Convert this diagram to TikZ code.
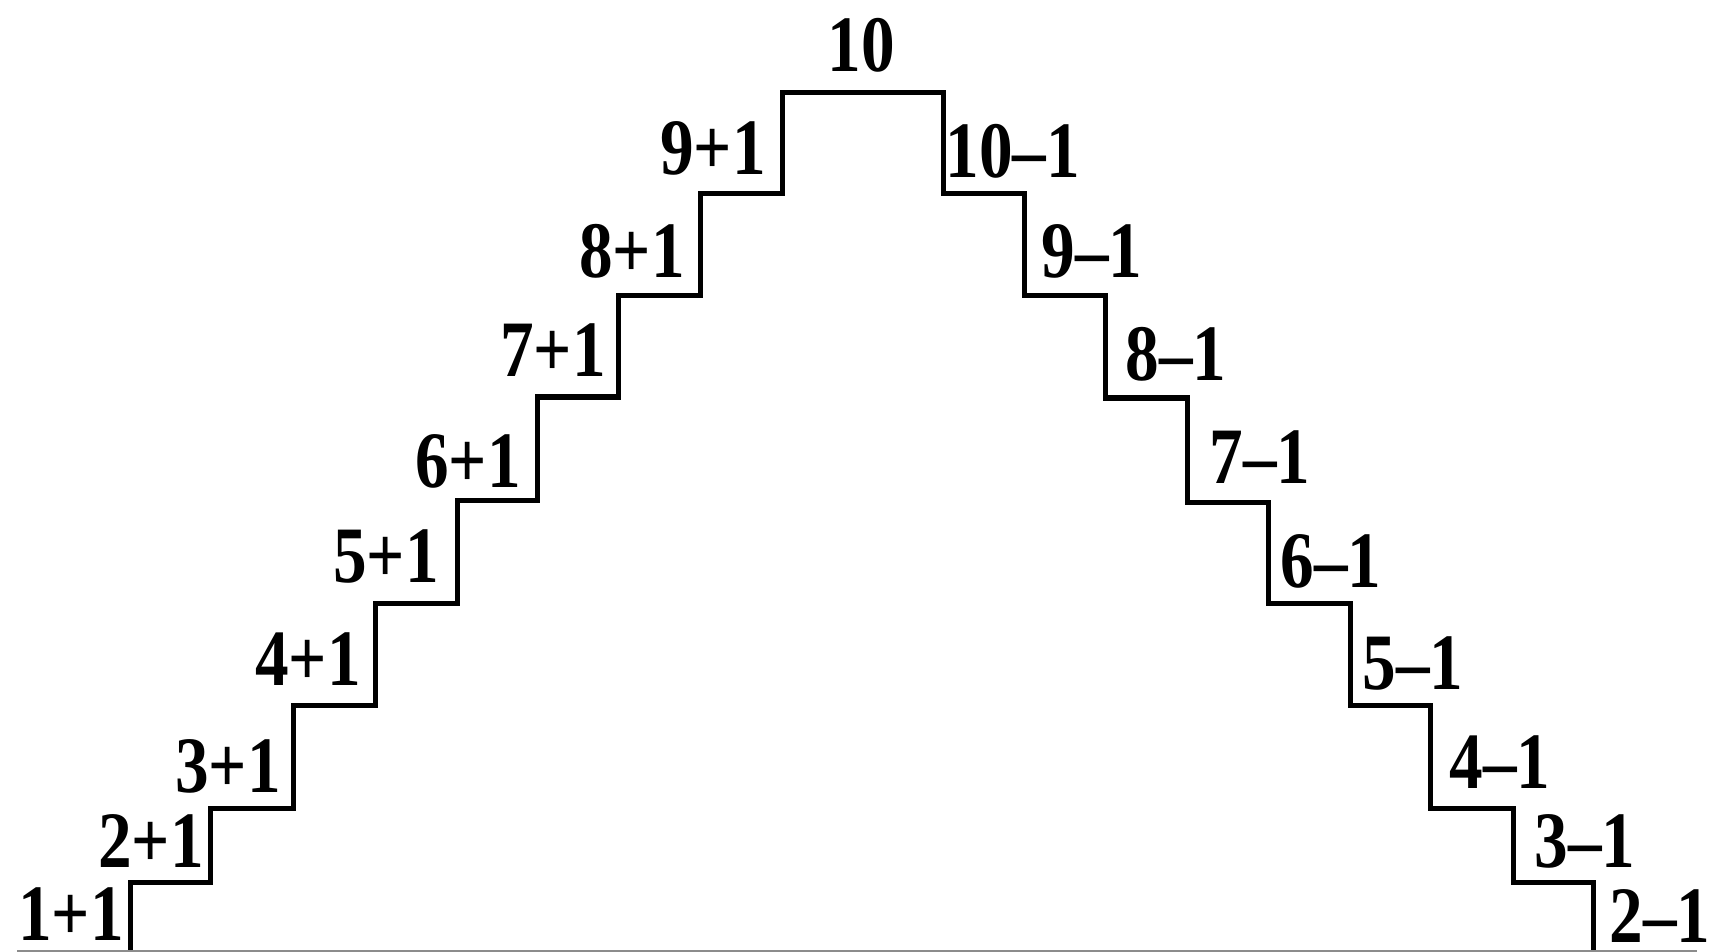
\documentclass[tikz,border=0pt]{standalone}
\usepackage{fontspec}
\setmainfont{Liberation Serif}
\newcommand{\stw}[1]{\scalebox{0.84}[1]{#1}}
\begin{document}
\begin{tikzpicture}[x=0.5pt,y=-0.5pt,
  stair/.style={line width=2.5pt, line join=miter},
  base/.style={draw=black!45, line width=1pt},
  lbl/.style={font=\fontsize{40}{40}\selectfont\bfseries, inner sep=0pt, text depth=0pt, text=black}]
\useasboundingbox[fill=white] (0,0) rectangle (1709,952);
% staircase
\draw[stair] (130,952) -- (130,882) -- (210,882) -- (210,808) -- (293,808) -- (293,705)
  -- (375,705) -- (375,603) -- (457,603) -- (457,500) -- (537,500) -- (537,397)
  -- (618,397) -- (618,296) -- (700,296) -- (700,194) -- (782,194) -- (782,93)
  -- (943,93) -- (943,194) -- (1024,194) -- (1024,296) -- (1105,296) -- (1105,398)
  -- (1187,398) -- (1187,502) -- (1268,502) -- (1268,603) -- (1350,603) -- (1350,705)
  -- (1430,705) -- (1430,808) -- (1513,808) -- (1513,882) -- (1593,882) -- (1593,952);
\draw[base] (17,950.5) -- (1697,950.5);
% left labels
\node[lbl, anchor=base east] (p1) at (124,940) {\stw{1+1}};
\node[lbl, anchor=base east] (p2) at (204,867) {\stw{2+1}};
\node[lbl, anchor=base east] (p3) at (281,792) {\stw{3+1}};
\node[lbl, anchor=base east] (p4) at (361,685) {\stw{4+1}};
\node[lbl, anchor=base east] (p5) at (439,582) {\stw{5+1}};
\node[lbl, anchor=base east] (p6) at (521,487) {\stw{6+1}};
\node[lbl, anchor=base east] (p7) at (606,377) {\stw{7+1}};
\node[lbl, anchor=base east] (p8) at (685,278) {\stw{8+1}};
\node[lbl, anchor=base east] (p9) at (766,175) {\stw{9+1}};
% top
\node[lbl, anchor=base] (top) at (861,72) {\stw{10}};
% right labels
\node[lbl, anchor=base west] (m10) at (945,178) {\stw{10–1}};
\node[lbl, anchor=base west] (m9) at (1041,278) {\stw{9–1}};
\node[lbl, anchor=base west] (m8) at (1125,380) {\stw{8–1}};
\node[lbl, anchor=base west] (m7) at (1209,483) {\stw{7–1}};
\node[lbl, anchor=base west] (m6) at (1280,587) {\stw{6–1}};
\node[lbl, anchor=base west] (m5) at (1362,689) {\stw{5–1}};
\node[lbl, anchor=base west] (m4) at (1449,788) {\stw{4–1}};
\node[lbl, anchor=base west] (m3) at (1534,867) {\stw{3–1}};
\node[lbl, anchor=base west] (m2) at (1609,942) {\stw{2–1}};
\end{tikzpicture}
\end{document}
